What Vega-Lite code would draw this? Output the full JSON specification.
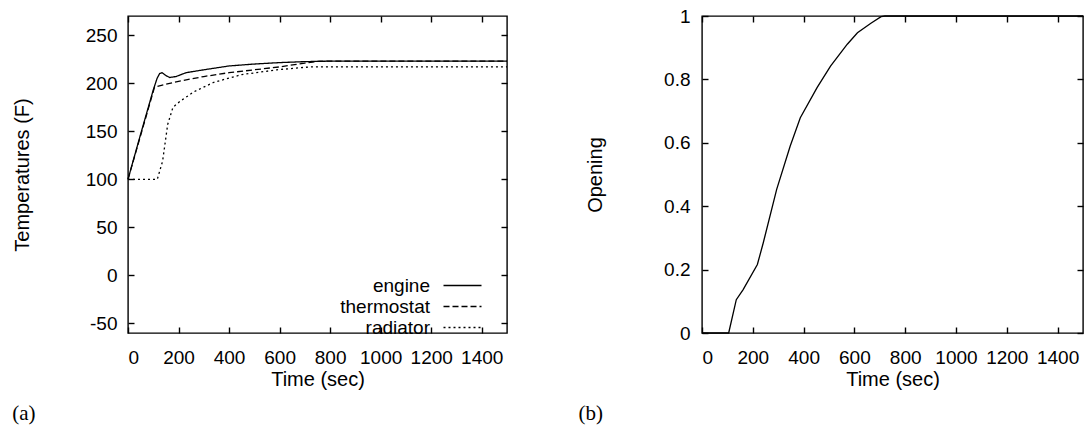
{
  "$schema": "https://vega.github.io/schema/vega-lite/v6.json",
  "background": "white",
  "padding": {"left": 11, "top": 6, "right": 0, "bottom": 0},
  "bounds": "flush",
  "spacing": 195,
  "config": {
    "view": {"stroke": "black", "strokeWidth": 1.4},
    "font": "Liberation Sans",
    "axis": {
      "domain": false,
      "grid": false,
      "tickColor": "black",
      "tickSize": -6,
      "tickWidth": 1.4,
      "labelFont": "Liberation Sans",
      "labelFontSize": 19,
      "labelColor": "black",
      "titleFont": "Liberation Sans",
      "titleFontSize": 20,
      "titleFontWeight": "normal",
      "titleColor": "black"
    },
    "title": {"font": "Liberation Serif", "fontSize": 21, "fontWeight": "normal", "color": "black"}
  },
  "datasets": {
    "temps": [
      {"time": 0, "series": "engine", "temp": 100},
      {"time": 50, "series": "engine", "temp": 147},
      {"time": 100, "series": "engine", "temp": 193},
      {"time": 115, "series": "engine", "temp": 205},
      {"time": 125, "series": "engine", "temp": 210},
      {"time": 135, "series": "engine", "temp": 211},
      {"time": 150, "series": "engine", "temp": 208},
      {"time": 165, "series": "engine", "temp": 206},
      {"time": 190, "series": "engine", "temp": 207},
      {"time": 230, "series": "engine", "temp": 211},
      {"time": 300, "series": "engine", "temp": 214},
      {"time": 400, "series": "engine", "temp": 218},
      {"time": 500, "series": "engine", "temp": 220},
      {"time": 600, "series": "engine", "temp": 221.5},
      {"time": 700, "series": "engine", "temp": 222.5},
      {"time": 800, "series": "engine", "temp": 223},
      {"time": 1000, "series": "engine", "temp": 223},
      {"time": 1500, "series": "engine", "temp": 223},
      {"time": 0, "series": "thermostat", "temp": 100},
      {"time": 105, "series": "thermostat", "temp": 196},
      {"time": 150, "series": "thermostat", "temp": 199},
      {"time": 200, "series": "thermostat", "temp": 202},
      {"time": 300, "series": "thermostat", "temp": 207},
      {"time": 400, "series": "thermostat", "temp": 211},
      {"time": 500, "series": "thermostat", "temp": 214},
      {"time": 600, "series": "thermostat", "temp": 217},
      {"time": 700, "series": "thermostat", "temp": 221},
      {"time": 760, "series": "thermostat", "temp": 223},
      {"time": 1500, "series": "thermostat", "temp": 223},
      {"time": 0, "series": "radiator", "temp": 100},
      {"time": 116, "series": "radiator", "temp": 100},
      {"time": 137, "series": "radiator", "temp": 119},
      {"time": 157, "series": "radiator", "temp": 157},
      {"time": 178, "series": "radiator", "temp": 175},
      {"time": 205, "series": "radiator", "temp": 181},
      {"time": 260, "series": "radiator", "temp": 191},
      {"time": 340, "series": "radiator", "temp": 201},
      {"time": 450, "series": "radiator", "temp": 209},
      {"time": 590, "series": "radiator", "temp": 214},
      {"time": 720, "series": "radiator", "temp": 217},
      {"time": 1500, "series": "radiator", "temp": 217}
    ],
    "opening": [
      {"time": 0, "opening": 0},
      {"time": 105, "opening": 0},
      {"time": 135, "opening": 0.105},
      {"time": 162, "opening": 0.137},
      {"time": 218, "opening": 0.216},
      {"time": 241, "opening": 0.284},
      {"time": 294, "opening": 0.453},
      {"time": 347, "opening": 0.589},
      {"time": 387, "opening": 0.679},
      {"time": 453, "opening": 0.774},
      {"time": 506, "opening": 0.842},
      {"time": 572, "opening": 0.911},
      {"time": 612, "opening": 0.947},
      {"time": 665, "opening": 0.977},
      {"time": 705, "opening": 0.998},
      {"time": 720, "opening": 1},
      {"time": 1500, "opening": 1}
    ]
  },
  "hconcat": [
    {
      "width": 379,
      "height": 317,
      "data": {"name": "temps"},
      "title": {"text": "(a)", "orient": "bottom", "anchor": "start", "frame": "bounds", "offset": 14},
      "resolve": {"axis": {"x": "independent", "y": "independent"}},
      "layer": [
        {
          "mark": {"type": "line", "color": "black", "strokeWidth": 1.3},
          "encoding": {
            "x": {"field": "time", "type": "quantitative", "scale": {"domain": [0, 1500], "nice": false},
                  "axis": {"orient": "bottom", "title": "Time (sec)", "values": [0, 200, 400, 600, 800, 1000, 1200, 1400], "format": "d", "labelPadding": 21, "titlePadding": 2}},
            "y": {"field": "temp", "type": "quantitative", "scale": {"domain": [-60, 270], "nice": false, "zero": false},
                  "axis": {"orient": "left", "title": "Temperatures (F)", "values": [-50, 0, 50, 100, 150, 200, 250], "labelExpr": "datum.value + ''", "labelPadding": 17, "titlePadding": 53}},
            "strokeDash": {"field": "series", "type": "nominal",
                           "scale": {"domain": ["engine", "thermostat", "radiator"], "range": [[1, 0], [6, 3], [2, 3]]},
                           "legend": {"title": null, "orient": "none", "legendX": 324, "legendY": 259, "padding": 0,
                                      "symbolType": "M-2,0H2", "symbolSize": 361, "symbolStrokeColor": "black", "symbolStrokeWidth": 1.3, "symbolFillColor": "transparent",
                                      "labelFont": "Liberation Sans", "labelFontSize": 19, "labelColor": "black",
                                      "labelAlign": "right", "labelOffset": -43, "rowPadding": -0.5}}
          }
        },
        {
          "mark": {"type": "line", "opacity": 0},
          "encoding": {
            "x": {"field": "time", "type": "quantitative",
                  "axis": {"orient": "top", "title": null, "labels": false, "values": [0, 200, 400, 600, 800, 1000, 1200, 1400]}},
            "y": {"field": "temp", "type": "quantitative",
                  "axis": {"orient": "right", "title": null, "labels": false, "values": [-50, 0, 50, 100, 150, 200, 250]}},
            "detail": {"field": "series"}
          }
        }
      ]
    },
    {
      "width": 381,
      "height": 317,
      "data": {"name": "opening"},
      "title": {"text": "(b)", "orient": "bottom", "anchor": "start", "frame": "bounds", "offset": 14, "dx": -7},
      "resolve": {"axis": {"x": "independent", "y": "independent"}},
      "layer": [
        {
          "mark": {"type": "line", "color": "black", "strokeWidth": 1.3},
          "encoding": {
            "x": {"field": "time", "type": "quantitative", "scale": {"domain": [0, 1500], "nice": false},
                  "axis": {"orient": "bottom", "title": "Time (sec)", "values": [0, 200, 400, 600, 800, 1000, 1200, 1400], "format": "d", "labelPadding": 21, "titlePadding": 2}},
            "y": {"field": "opening", "type": "quantitative", "scale": {"domain": [0, 1], "nice": false},
                  "axis": {"orient": "left", "title": "Opening", "values": [0, 0.2, 0.4, 0.6, 0.8, 1], "format": "~g", "labelPadding": 18, "titlePadding": 58}}
          }
        },
        {
          "mark": {"type": "line", "opacity": 0},
          "encoding": {
            "x": {"field": "time", "type": "quantitative",
                  "axis": {"orient": "top", "title": null, "labels": false, "values": [0, 200, 400, 600, 800, 1000, 1200, 1400]}},
            "y": {"field": "opening", "type": "quantitative",
                  "axis": {"orient": "right", "title": null, "labels": false, "values": [0, 0.2, 0.4, 0.6, 0.8, 1]}}
          }
        }
      ]
    }
  ]
}
